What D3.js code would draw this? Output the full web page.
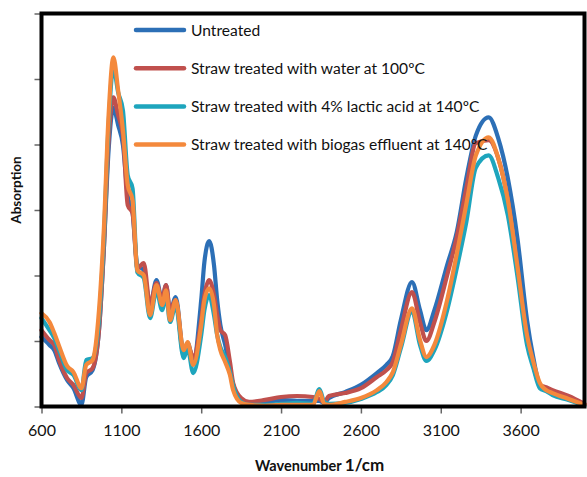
<!DOCTYPE html>
<html>

<head>
  <meta charset="utf-8">
  <title>FTIR spectra</title>
  <style>
    body {
      margin: 0;
      background: #fff;
    }

    .series {
      fill: none;
      stroke-width: 4.2px;
      stroke-linejoin: round;
      stroke-linecap: round;
    }

    .axis path {
      display: none;
    }

    .axis line {
      stroke: #666;
      stroke-width: 1.5px;
    }

    .axis text {
      font-family: Lato, "Open Sans", sans-serif;
      font-size: 16px;
      fill: #111;
    }
  </style>
</head>

<body>
  <svg width="587" height="477"></svg>

  <script src="https://d3js.org/d3.v7.min.js"></script>
  <script>
    // Wavenumbers (1/cm) shared by all spectra
    var wavenumbers = [600, 650, 680, 710, 760, 800, 850, 880, 920, 960, 990, 1020, 1050, 1080, 1110, 1140, 1170,
      1200, 1240, 1280, 1320, 1355, 1380, 1405, 1440, 1490, 1515, 1550, 1600, 1620, 1650, 1680, 1700, 1720, 1750,
      1780, 1800, 1850, 1900, 2000, 2100, 2200, 2300, 2340, 2370, 2400, 2500, 2600, 2700, 2760, 2800, 2850, 2920,
      2970, 3010, 3060, 3140, 3200, 3260, 3320, 3400, 3460, 3520, 3580, 3640, 3680, 3720, 3760, 3800, 3900, 4000];

    // Absorption values
    var untreated = [0.212, 0.188, 0.172, 0.133, 0.081, 0.056, 0.005, 0.090, 0.111, 0.233, 0.477, 0.782, 0.913, 0.859, 0.798, 0.645, 0.593,
      0.432, 0.416, 0.310, 0.386, 0.325, 0.371, 0.288, 0.334, 0.166, 0.194, 0.142, 0.325, 0.441, 0.505, 0.432, 0.325, 0.249, 0.188,
      0.111, 0.066, 0.020, 0.008, 0.011, 0.020, 0.017, 0.017, 0.017, 0.011, 0.026, 0.044, 0.066, 0.102, 0.127, 0.154, 0.264, 0.380,
      0.294, 0.233, 0.294, 0.432, 0.532, 0.697, 0.828, 0.883, 0.819, 0.697, 0.514, 0.264, 0.148, 0.066, 0.053, 0.047, 0.026, 0.005];

    var water100 = [0.233, 0.203, 0.188, 0.142, 0.087, 0.066, 0.026, 0.102, 0.117, 0.233, 0.477, 0.813, 0.944, 0.889, 0.828, 0.615, 0.590,
      0.422, 0.438, 0.310, 0.377, 0.325, 0.371, 0.294, 0.325, 0.157, 0.188, 0.151, 0.264, 0.340, 0.386, 0.340, 0.279, 0.233, 0.218,
      0.136, 0.072, 0.026, 0.014, 0.020, 0.029, 0.032, 0.029, 0.023, 0.014, 0.032, 0.041, 0.056, 0.090, 0.111, 0.136, 0.233, 0.349,
      0.258, 0.200, 0.258, 0.401, 0.517, 0.666, 0.804, 0.813, 0.758, 0.630, 0.422, 0.209, 0.124, 0.066, 0.059, 0.050, 0.032, 0.008];

    var lactic140 = [0.270, 0.233, 0.209, 0.172, 0.111, 0.096, 0.050, 0.142, 0.148, 0.264, 0.508, 0.859, 1.035, 0.959, 0.904, 0.706, 0.666,
      0.410, 0.392, 0.270, 0.355, 0.294, 0.340, 0.258, 0.310, 0.148, 0.178, 0.102, 0.218, 0.294, 0.340, 0.279, 0.218, 0.181, 0.151,
      0.105, 0.063, 0.014, 0.005, 0.005, 0.008, 0.011, 0.008, 0.053, 0.014, 0.008, 0.011, 0.023, 0.044, 0.066, 0.096, 0.178, 0.291,
      0.188, 0.139, 0.172, 0.294, 0.422, 0.563, 0.730, 0.767, 0.697, 0.584, 0.398, 0.188, 0.117, 0.056, 0.047, 0.035, 0.020, 0.002];

    var biogas140 = [0.285, 0.258, 0.224, 0.185, 0.124, 0.105, 0.056, 0.127, 0.142, 0.294, 0.538, 0.889, 1.066, 0.965, 0.843, 0.676, 0.630,
      0.416, 0.401, 0.279, 0.371, 0.310, 0.355, 0.264, 0.325, 0.172, 0.197, 0.127, 0.249, 0.325, 0.361, 0.310, 0.218, 0.172, 0.136,
      0.096, 0.050, 0.011, 0.005, 0.002, 0.005, 0.005, 0.005, 0.047, 0.008, 0.005, 0.014, 0.026, 0.050, 0.075, 0.105, 0.188, 0.300,
      0.203, 0.151, 0.188, 0.325, 0.465, 0.618, 0.767, 0.822, 0.758, 0.630, 0.428, 0.218, 0.136, 0.072, 0.050, 0.041, 0.023, 0.005];

    var seriesNames = ["Untreated", "Straw treated with water at 100ºC",
      "Straw treated with 4% lactic acid at 140ºC", "Straw treated with biogas effluent at 140ºC"];
    var seriesValues = [untreated, water100, lactic140, biogas140];
    var seriesColors = ["#2c6fb6", "#c0504d", "#1ea5bd", "#f4893c"];

    var xTicks = [600, 1100, 1600, 2100, 2600, 3100, 3600];
    var yTicks = [0, 0.2, 0.4, 0.6, 0.8, 1.0, 1.2];

    var svg = d3.select("svg");

    // Escalas
    var x = d3.scaleLinear().domain([600, 4000]).range([41.5, 584.5]);
    var y = d3.scaleLinear().domain([0, 1.2]).range([406.5, 13.5]);

    // Eixos (ticks para fora, sem rótulos em y)
    svg.append("g")
      .attr("class", "axis")
      .attr("transform", "translate(0," + y(0) + ")")
      .call(d3.axisBottom(x).tickValues(xTicks).tickSize(7).tickPadding(11).tickFormat(d3.format("d")));

    svg.append("g")
      .attr("class", "axis")
      .attr("transform", "translate(" + x(600) + ",0)")
      .call(d3.axisLeft(y).tickValues(yTicks).tickSize(7).tickFormat(""));

    // Linhas dos espectros
    var line = d3.line()
      .x(function (d) { return x(d[0]); })
      .y(function (d) { return y(d[1]); })
      .curve(d3.curveMonotoneX);

    seriesValues.forEach(function (vals, i) {
      svg.append("path")
        .attr("class", "series")
        .attr("stroke", seriesColors[i])
        .attr("d", line(wavenumbers.map(function (w, j) { return [w, vals[j]]; })));
    });

    // Moldura do gráfico
    svg.append("rect")
      .attr("x", x(600))
      .attr("y", y(1.2))
      .attr("width", x(4000) - x(600))
      .attr("height", y(0) - y(1.2))
      .attr("fill", "none")
      .attr("stroke", "#000")
      .attr("stroke-width", 4);

    // Legenda
    var legend = svg.selectAll(".legend")
      .data(seriesNames)
      .enter().append("g")
      .attr("class", "legend")
      .attr("transform", function (d, i) { return "translate(0," + (30 + i * 38.2) + ")"; });

    legend.append("line")
      .attr("x1", 136).attr("x2", 184)
      .attr("stroke", function (d, i) { return seriesColors[i]; })
      .attr("stroke-width", 4.5)
      .attr("stroke-linecap", "round");

    legend.append("text")
      .attr("x", 191)
      .attr("y", 5.5)
      .style("font-family", "Lato, 'Open Sans', sans-serif")
      .style("font-size", "15.6px")
      .style("fill", "#111")
      .text(function (d) { return d; });

    // Títulos dos eixos
    var xt = svg.append("text")
      .attr("x", 255)
      .attr("y", 471)
      .style("font-family", "Lato, 'Open Sans', sans-serif")
      .style("font-weight", "bold")
      .style("fill", "#111");
    xt.append("tspan").style("font-size", "14.5px").text("Wavenumber ");
    xt.append("tspan").style("font-size", "17px").text("1/cm");

    svg.append("text")
      .attr("transform", "translate(21,190) rotate(-90)")
      .attr("text-anchor", "middle")
      .style("font-family", "Lato, 'Open Sans', sans-serif")
      .style("font-weight", "bold")
      .style("font-size", "13.5px")
      .style("fill", "#111")
      .text("Absorption");
  </script>
</body>

</html>
